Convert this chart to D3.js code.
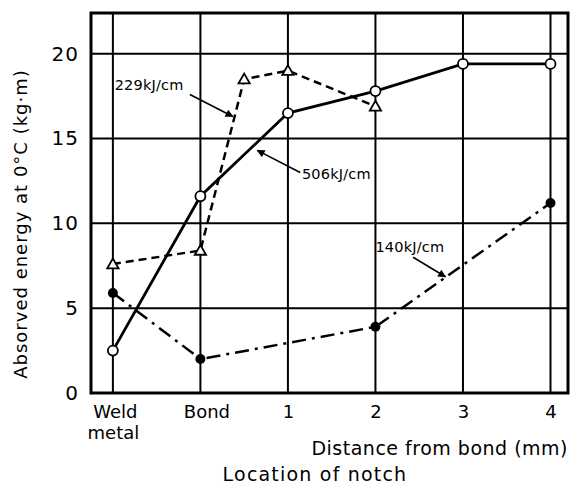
<!DOCTYPE html>
<html>
<head>
<meta charset="utf-8">
<script src="https://cdn.jsdelivr.net/npm/d3@7"></script>
<style>
  html, body { margin: 0; padding: 0; background: #fff; }
  svg { display: block; }
  text { font-family: "DejaVu Sans", sans-serif; fill: #000; }
</style>
</head>
<body>
<svg id="chart" width="570" height="485"></svg>
<script>
// Notch locations: weld metal, bond, then distance from bond (mm)
const locations = ["Weld|metal", "Bond", "1", "2", "3", "4"];
const yTicks = [0, 5, 10, 15, 20];

// Absorbed energy (kg·m) at 0°C for each heat input
const pos506 = [0, 1, 2, 3, 4, 5];
const val506 = [2.5, 11.6, 16.5, 17.8, 19.4, 19.4];

const pos229 = [0, 1, 1.5, 2, 3];
const val229 = [7.6, 8.4, 18.5, 19.0, 16.9];

const pos140 = [0, 1, 3, 5];
const val140 = [5.9, 2.0, 3.9, 11.2];

const seriesNames = ["506kJ/cm", "229kJ/cm", "140kJ/cm"];

const svg = d3.select("#chart");
const L = 91, R = 568, T = 13, B = 393;

const x = d3.scaleLinear().domain([-0.25, 5.2]).range([L, R]);
const y = d3.scaleLinear().domain([0, 22.4]).range([B, T]);

// grid
const grid = svg.append("g").attr("stroke", "#000").attr("stroke-width", 2);
grid.selectAll("line.v").data(d3.range(locations.length)).join("line")
  .attr("x1", d => x(d)).attr("x2", d => x(d)).attr("y1", T).attr("y2", B);
grid.selectAll("line.h").data(yTicks.filter(v => v > 0)).join("line")
  .attr("x1", L).attr("x2", R).attr("y1", d => y(d)).attr("y2", d => y(d));

// frame
svg.append("rect").attr("x", L).attr("y", T).attr("width", R - L).attr("height", B - T)
  .attr("fill", "none").attr("stroke", "#000").attr("stroke-width", 3);

// y axis
const yAxis = svg.append("g").attr("transform", `translate(${L},0)`)
  .call(d3.axisLeft(y).tickValues(yTicks).tickSize(0).tickPadding(12));
yAxis.select(".domain").remove();
yAxis.selectAll("text").style("font-size", "20px").style("font-family", "DejaVu Sans, sans-serif")
  .style("letter-spacing", "1px");

// x axis
const xAxis = svg.append("g").attr("transform", `translate(0,${B})`)
  .call(d3.axisBottom(x).tickValues(d3.range(locations.length)).tickSize(0).tickPadding(8).tickFormat(""));
xAxis.select(".domain").remove();
xAxis.selectAll(".tick").each(function(d) {
  const parts = locations[d].split("|");
  const t = d3.select(this).append("text")
    .attr("text-anchor", "middle").style("font-size", "18px");
  parts.forEach((p, i) => {
    t.append("tspan").attr("x", i === 0 && parts.length > 1 ? 2 : (d === 1 ? 6 : 0))
      .attr("y", 25 + i * 21).text(p);
  });
});

// axis titles
svg.append("text").attr("x", R).attr("y", 455).attr("text-anchor", "end")
  .style("font-size", "19px").style("letter-spacing", "0.5px").text("Distance from bond (mm)");
svg.append("text").attr("x", 315).attr("y", 481).attr("text-anchor", "middle")
  .style("font-size", "19px").style("letter-spacing", "1.2px").text("Location of notch");
svg.append("text").attr("transform", "translate(27,224) rotate(-90)")
  .attr("text-anchor", "middle").style("font-size", "18px").style("letter-spacing", "1px")
  .text("Absorved energy at 0°C  (kg·m)");

// series lines
const line = d3.line().x(d => x(d[0])).y(d => y(d[1]));
const pts = (p, v) => p.map((d, i) => [d, v[i]]);

svg.append("path").datum(pts(pos229, val229)).attr("d", line)
  .attr("fill", "none").attr("stroke", "#000").attr("stroke-width", 2.5)
  .attr("stroke-dasharray", "8,5");
svg.append("path").datum(pts(pos140, val140)).attr("d", line)
  .attr("fill", "none").attr("stroke", "#000").attr("stroke-width", 2.5)
  .attr("stroke-dasharray", "14,6,3,6");
svg.append("path").datum(pts(pos506, val506)).attr("d", line)
  .attr("fill", "none").attr("stroke", "#000").attr("stroke-width", 2.8);

// markers
svg.append("g").selectAll("path").data(pts(pos229, val229)).join("path")
  .attr("d", d3.symbol(d3.symbolTriangle, 55))
  .attr("transform", d => `translate(${x(d[0])},${y(d[1]) + 1})`)
  .attr("fill", "#fff").attr("stroke", "#000").attr("stroke-width", 1.8);
svg.append("g").selectAll("circle").data(pts(pos506, val506)).join("circle")
  .attr("cx", d => x(d[0])).attr("cy", d => y(d[1])).attr("r", 5)
  .attr("fill", "#fff").attr("stroke", "#000").attr("stroke-width", 1.8);
svg.append("g").selectAll("circle").data(pts(pos140, val140)).join("circle")
  .attr("cx", d => x(d[0])).attr("cy", d => y(d[1])).attr("r", 5)
  .attr("fill", "#000");

// annotation labels with pointer arrows
svg.append("defs").append("marker").attr("id", "head")
  .attr("viewBox", "0 0 10 10").attr("refX", 9).attr("refY", 5)
  .attr("markerWidth", 10).attr("markerHeight", 8).attr("markerUnits", "userSpaceOnUse")
  .attr("orient", "auto")
  .append("path").attr("d", "M0,0 L10,5 L0,10 Z").attr("fill", "#000");

const notes = [
  { name: seriesNames[1], tx: 0.02, ty: 17.85, from: [0.88, 17.6], to: [1.37, 16.3] },
  { name: seriesNames[0], tx: 2.16, ty: 12.6, from: [2.14, 13.0], to: [1.65, 14.3] },
  { name: seriesNames[2], tx: 3.0, ty: 8.3, from: [3.43, 8.0], to: [3.8, 6.85] }
];
notes.forEach(n => {
  svg.append("text").attr("x", x(n.tx)).attr("y", y(n.ty))
    .style("font-size", "14.5px").style("letter-spacing", "0.2px").text(n.name);
  svg.append("line")
    .attr("x1", x(n.from[0])).attr("y1", y(n.from[1]))
    .attr("x2", x(n.to[0])).attr("y2", y(n.to[1]))
    .attr("stroke", "#000").attr("stroke-width", 1.6)
    .attr("marker-end", "url(#head)");
});
</script>
</body>
</html>
